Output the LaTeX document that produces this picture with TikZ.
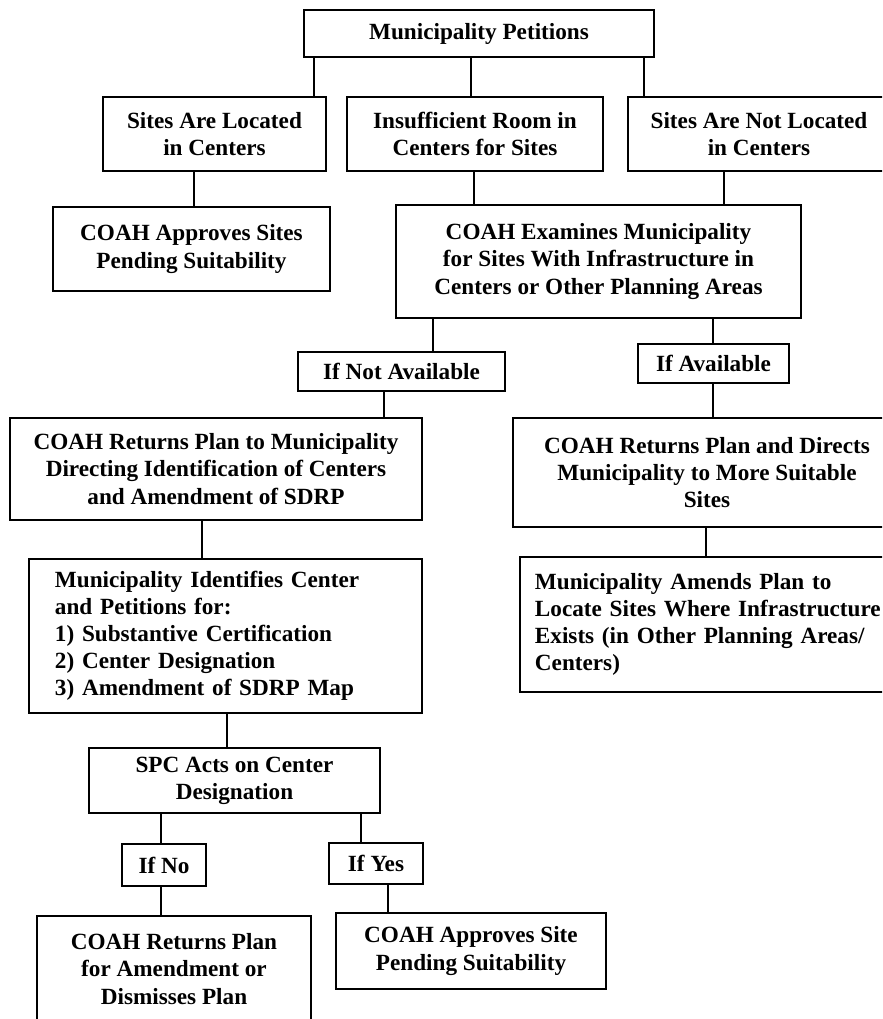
\documentclass[tikz,border=0pt]{standalone}
\usepackage{fontspec}
\setmainfont{Liberation Serif}
\usepackage{tikz}
\usetikzlibrary{positioning}
\newcommand{\chartfont}{\fontsize{16.5}{19.3}\selectfont\bfseries}

\begin{document}
\begin{tikzpicture}[x=0.025cm, y=-0.025cm,
  box/.style={draw, line width=1.4pt, inner sep=0pt, align=center, font=\chartfont},
  link/.style={line width=0.9pt}]
\useasboundingbox (0,0) rectangle (882,1019);
\clip (0,0) rectangle (882,1019);
% first row
\node[box, minimum width=8.75cm, minimum height=1.175cm] (petition) at (479,33.5) {Municipality Petitions};
\node[box, minimum width=5.575cm, minimum height=1.85cm] (sitesIn) at (214.5,134) {Sites Are Located\\in Centers};
\node[box, minimum width=6.4cm, minimum height=1.85cm] (noRoom) at (475,134) {Insufficient Room in\\Centers for Sites};
\node[box, minimum width=6.55cm, minimum height=1.85cm] (sitesOut) at (759,134) {Sites Are Not Located\\in Centers};
\draw[link] (petition.south -| 314,0) -- (sitesIn.north -| 314,0);
\draw[link] (petition.south -| 471,0) -- (noRoom.north -| 471,0);
\draw[link] (petition.south -| 644,0) -- (sitesOut.north -| 644,0);
% coah examines
\node[box, minimum width=6.925cm, minimum height=2.1cm] (approve) at (191.5,249) {COAH Approves Sites\\Pending Suitability};
\node[box, minimum width=10.125cm, minimum height=2.825cm] (examine) at (598.5,261.5) {COAH Examines Municipality\\for Sites With Infrastructure in\\Centers or Other Planning Areas};
\draw[link] (sitesIn.south -| 194,0) -- (approve.north -| 194,0);
\draw[link] (noRoom.south -| 474,0) -- (examine.north -| 474,0);
\draw[link] (sitesOut.south -| 724,0) -- (examine.north -| 724,0);
\node[box, minimum width=5.175cm, minimum height=0.975cm] (notAvail) at (401.5,371.5) {If Not Available};
\node[box, minimum width=3.775cm, minimum height=0.975cm] (avail) at (713.5,363.5) {If Available};
\draw[link] (examine.south -| 433,0) -- (notAvail.north -| 433,0);
\draw[link] (examine.south -| 713,0) -- (avail.north -| 713,0);
% returned plans
\node[box, minimum width=10.3cm, minimum height=2.55cm] (returnPlan) at (216,469) {COAH Returns Plan to Municipality\\Directing Identification of Centers\\and Amendment of SDRP};
\node[box, minimum width=9.7cm, minimum height=2.725cm] (directs) at (707,472.5) {COAH Returns Plan and Directs\\Municipality to More Suitable\\Sites};
\draw[link] (notAvail.south -| 384,0) -- (returnPlan.north -| 384,0);
\draw[link] (avail.south -| 713,0) -- (directs.north -| 713,0);
\node[box, align=left, text width=8.525cm, inner xsep=0.65cm, minimum height=3.85cm] (identifies) at (225.5,636) {Municipality Identifies Center\\and Petitions for:\\1) Substantive Certification\\2) Center Designation\\3) Amendment of SDRP Map};
\node[box, align=left, text width=8.75cm, inner xsep=0.375cm, minimum height=3.375cm] (amends) at (710,624.5) {Municipality Amends Plan to\\Locate Sites Where Infrastructure\\Exists (in Other Planning Areas/\\Centers)};
\draw[link] (returnPlan.south -| 202,0) -- (identifies.north -| 202,0);
\draw[link] (directs.south -| 706,0) -- (amends.north -| 706,0);
% spc decision
\node[box, minimum width=7.275cm, minimum height=1.625cm] (spc) at (234.5,780.5) {SPC Acts on Center\\Designation};
\draw[link] (identifies.south -| 227,0) -- (spc.north -| 227,0);
\node[box, minimum width=2.1cm, minimum height=1.05cm] (ifNo) at (164,865) {If No};
\node[box, minimum width=2.35cm, minimum height=1.025cm] (ifYes) at (376,863.5) {If Yes};
\draw[link] (spc.south -| 161,0) -- (ifNo.north -| 161,0);
\draw[link] (spc.south -| 361,0) -- (ifYes.north -| 361,0);
\node[box, minimum width=6.85cm, minimum height=2.65cm] (dismiss) at (174,969) {COAH Returns Plan\\for Amendment or\\Dismisses Plan};
\node[box, minimum width=6.75cm, minimum height=1.9cm] (approveSite) at (471,951) {COAH Approves Site\\Pending Suitability};
\draw[link] (ifNo.south -| 161,0) -- (dismiss.north -| 161,0);
\draw[link] (ifYes.south -| 388,0) -- (approveSite.north -| 388,0);
\end{tikzpicture}
\end{document}
